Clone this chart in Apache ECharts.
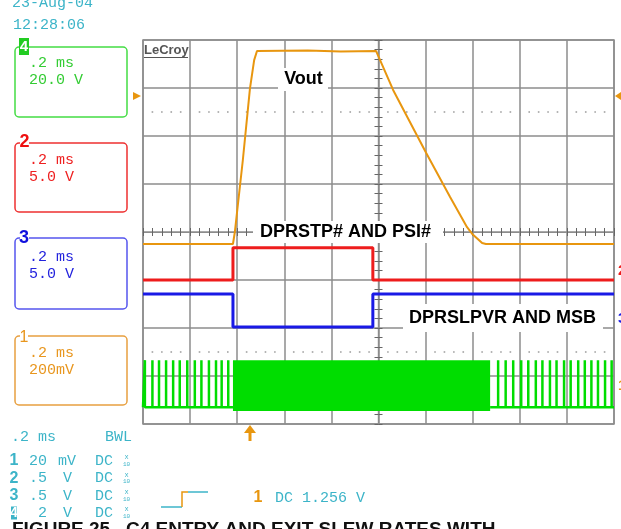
<!DOCTYPE html>
<html>
<head>
<meta charset="utf-8">
<script src="https://cdn.jsdelivr.net/npm/echarts@6/dist/echarts.min.js"></script>
<style>
html,body{margin:0;padding:0;background:#fff;}
#c{width:621px;height:529px;}
</style>
</head>
<body>
<div id="c"></div>
<script>
// ---- data (x: divisions from screen centre, 0.2 ms/div; y: divisions from centre) ----
const voutTrace = [[-5,-0.25],[-3.09,-0.25],[-3.05,0.0],[-2.88,1.5],[-2.73,2.98],[-2.64,3.58],[-2.58,3.77],
  [-1.5,3.78],[-0.8,3.76],[-0.05,3.77],[-0.01,3.75],[0.31,2.96],[1.01,1.65],[1.52,0.73],[1.88,0.10],
  [1.99,-0.04],[2.2,-0.23],[2.28,-0.25],[5,-0.25]];
const dprstpTrace = [[-5,-1.0],[-3.09,-1.0],[-3.09,-0.33],[-0.12,-0.33],[-0.12,-1.0],[5,-1.0]];
const dprslpvrTrace = [[-5,-1.29],[-3.09,-1.29],[-3.09,-1.98],[-0.12,-1.98],[-0.12,-1.29],[5,-1.29]];
const phasePulsesBefore = [-4.96,-4.80,-4.66,-4.51,-4.36,-4.22,-4.06,-3.90,-3.76,-3.60,-3.45,-3.33,-3.19];
const phasePulsesAfter = [2.54,2.70,2.86,3.03,3.18,3.34,3.48,3.64,3.78,3.94,4.08,4.24,4.38,4.52,4.66,4.81,4.95];
const phaseLevels = {base:-3.65, top:-2.67, burstBottom:-3.73};
const burstSpan = [-3.09, 2.37];
const dottedRows = [2.5, -2.5];

const chanBoxes = [
  {n:'4', time:'.2 ms', scale:'20.0 V'},
  {n:'2', time:'.2 ms', scale:'5.0 V'},
  {n:'3', time:'.2 ms', scale:'5.0 V'},
  {n:'1', time:'.2 ms', scale:'200mV'}
];
const chanRows = [
  {n:'1', v:'20', u:'mV', c:'DC'},
  {n:'2', v:'.5', u:'V', c:'DC'},
  {n:'3', v:'.5', u:'V', c:'DC'},
  {n:'4', v:'2', u:'V', c:'DC'}
];

// ---- build ----
function pulseLine(xs, start, end){
  const pts=[[start,phaseLevels.base]];
  xs.forEach(x=>{pts.push([x,phaseLevels.base],[x,phaseLevels.top],[x,phaseLevels.base]);});
  pts.push([end,phaseLevels.base]);
  return pts;
}

const GRIDC = '#8c8c8c';
const TEAL = '#3cb4c8';
const ORANGE = '#e8960f';
const RED = '#ee1c1c';
const BLUE = '#1a1ae6';
const GREEN = '#00dd00';
const MONO = '"Liberation Mono", "DejaVu Sans Mono", monospace';
const SANS = '"Liberation Sans", Arial, sans-serif';

function axis(min,max,pos,split){
  return {type:'value', min:min, max:max, interval:1, position:pos,
    axisLabel:{show:false},
    axisLine:{show:true, onZero:true, lineStyle:{color:GRIDC, width:1.2}},
    axisTick:{show:true, inside:true, length:4, lineStyle:{color:'#666', width:1}},
    minorTick:{show:true, splitNumber:5, length:4, lineStyle:{color:'#666', width:1}},
    splitLine:{show:split, lineStyle:{color:GRIDC, width:1.5}}
  };
}

// graticule dots: every 1/5 division between major lines on the dotted rows
const dotPts = [];
dottedRows.forEach(y=>{
  for(let d=-5; d<5; d++){ for(let k=1;k<5;k++){ dotPts.push([d+k/5, y]); } }
});

const series = [];
series.push({type:'scatter', data:dotPts, symbol:'rect', symbolSize:[1.6,1.6], silent:true, z:1,
  itemStyle:{color:'#8a8a8a'}});
series.push({type:'line', name:'ch4', data:pulseLine(phasePulsesBefore,-5,burstSpan[0]), symbol:'none', z:3,
  lineStyle:{color:GREEN, width:2.5},
  markArea:{silent:true, itemStyle:{color:GREEN, opacity:1},
    data:[[{coord:[burstSpan[0],phaseLevels.top]},{coord:[burstSpan[1],phaseLevels.burstBottom]}]]}});
series.push({type:'line', name:'ch4b', data:pulseLine(phasePulsesAfter,burstSpan[1],5), symbol:'none', z:3,
  lineStyle:{color:GREEN, width:2.5}});
series.push({type:'line', name:'ch3', data:dprslpvrTrace, symbol:'none', z:4, lineStyle:{color:BLUE, width:3}});
series.push({type:'line', name:'ch2', data:dprstpTrace, symbol:'none', z:4, lineStyle:{color:RED, width:3}});
series.push({type:'line', name:'ch1', data:voutTrace, symbol:'none', z:5, lineStyle:{color:ORANGE, width:2}});

const g = [];
function txt(x,y,t,font,fill,align){
  g.push({type:'text', x:x, y:y, z:20, style:{text:t, font:font, fill:fill, align:align||'left', verticalAlign:'middle', textAlign:align||'left', textVerticalAlign:'middle'}});
}
function rect(x,y,w,h,fill,stroke,lw,r){
  g.push({type:'rect', z:15, shape:{x:x,y:y,width:w,height:h,r:r||0}, style:{fill:fill||'none', stroke:stroke||'none', lineWidth:lw||0}});
}

// date/time
txt(12,3,'23-Aug-04','15px '+MONO,TEAL);
txt(13,25,'12:28:06','15px '+MONO,TEAL);

// channel boxes
const boxGeo = [
  {top:47, bottom:117, col:'#44dd44', t1:63, t2:80.5},
  {top:143, bottom:212, col:'#ee3030', t1:160, t2:177},
  {top:238, bottom:309, col:'#5555ee', t1:257, t2:274},
  {top:336, bottom:405, col:'#e8a040', t1:353, t2:370}
];
const boxText = ['#33cc33', '#ee2020', '#2222dd', '#e8961e'];
chanBoxes.forEach((b,i)=>{
  const geo = boxGeo[i];
  rect(15,geo.top,112,geo.bottom-geo.top,'none',geo.col,1.5,4);
  txt(29,geo.t1,b.time,'15px '+MONO,boxText[i]);
  txt(29,geo.t2,b.scale,'15px '+MONO,boxText[i]);
});
// labels on boxes
rect(19,38,10,17,'#22cc22');
txt(24,47,'4','bold 15px '+MONO,'#fff','center');
rect(20,136,9,12,'#fff');
txt(24.5,142,'2','bold 18px '+SANS,'#ee1010','center');
rect(20,232,9,12,'#fff');
txt(24,238.5,'3','bold 18px '+SANS,'#1010dd','center');
rect(20,331,8,12,'#fff');
txt(24,338,'1','16px '+SANS,'#e8961e','center');

// bottom info
txt(11,437.5,'.2 ms','15px '+MONO,TEAL);
txt(105,437.5,'BWL','15px '+MONO,TEAL);
const rowY=[461,478.5,496,513];
chanRows.forEach((r,i)=>{
  const y=rowY[i];
  if(r.n==='4'){ rect(11,y-6.5,6,13,TEAL); txt(14,y,'4','bold 14px '+SANS,'#fff','center'); }
  else txt(14,y,r.n,'bold 16px '+SANS,TEAL,'center');
  txt(r.v.length===1?38:29,y,r.v,'15px '+MONO,TEAL);
  txt(r.u==='V'?63:58,y,r.u,'15px '+MONO,TEAL);
  txt(95,y,r.c,'15px '+MONO,TEAL);
  txt(126.5,y-3.5,'x','7px '+MONO,TEAL,'center');
  txt(126.5,y+3,'10','6px '+MONO,TEAL,'center');
});
// trigger symbol
g.push({type:'polyline', z:15, shape:{points:[[161,507],[182,507]]}, style:{stroke:TEAL, lineWidth:1.5, fill:'none'}});
g.push({type:'polyline', z:15, shape:{points:[[182,507],[182,492],[188,492]]}, style:{stroke:ORANGE, lineWidth:1.5, fill:'none'}});
g.push({type:'polyline', z:15, shape:{points:[[188,492],[208,492]]}, style:{stroke:TEAL, lineWidth:1.5, fill:'none'}});
txt(258,498,'1','bold 16px '+SANS,ORANGE,'center');
txt(275,498,'DC 1.256 V','15px '+MONO,TEAL);

// title (cut off)
txt(12,530,'FIGURE 25.  C4 ENTRY AND EXIT SLEW RATES WITH','bold 19px '+SANS,'#111');

// trigger arrows
g.push({type:'polygon', z:15, shape:{points:[[133,92],[141,96],[133,100]]}, style:{fill:ORANGE}});
g.push({type:'polygon', z:15, shape:{points:[[621,92],[615,96],[621,100]]}, style:{fill:ORANGE}});
g.push({type:'polygon', z:15, shape:{points:[[244,433],[250,425],[256,433]]}, style:{fill:ORANGE}});
rect(248.5,431,3,10,ORANGE);

// right channel markers
txt(618,270.5,'2','bold 15px '+SANS,RED,'left');
txt(618,318.5,'3','bold 15px '+SANS,BLUE,'left');
txt(618,386,'1','bold 15px '+SANS,ORANGE,'left');

// LeCroy logo
txt(144,50,'LeCroy','bold 13px '+SANS,'#555');
g.push({type:'line', z:15, shape:{x1:144,y1:57.5,x2:188,y2:57.5}, style:{stroke:'#555', lineWidth:1.2}});

// annotations with white backing
rect(278,68,50,23,'#fff');
txt(303.5,79,'Vout','bold 18px '+SANS,'#000','center');
rect(253,221,190,22,'#fff');
txt(345.5,232,'DPRSTP# AND PSI#','bold 18px '+SANS,'#000','center');
rect(403,304,200,28,'#fff');
txt(502.5,318.5,'DPRSLPVR AND MSB','bold 18px '+SANS,'#000','center');

const chart = echarts.init(document.getElementById('c'), null, {renderer:'canvas'});
chart.setOption({
  animation:false,
  backgroundColor:'#fff',
  grid:{left:143, top:40, width:471, height:384, show:true, borderColor:GRIDC, borderWidth:1.5, backgroundColor:'#fff'},
  xAxis:[axis(-5,5,'bottom',true), axis(-5,5,'top',false)],
  yAxis:[axis(-4,4,'left',true), axis(-4,4,'right',false)],
  series:series,
  graphic:g
});
</script>
</body>
</html>
